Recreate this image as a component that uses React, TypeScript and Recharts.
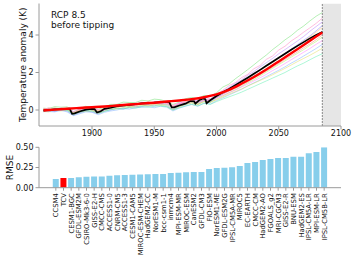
import React from 'react';
import {
  LineChart, Line, XAxis, YAxis, ReferenceArea, ReferenceLine,
  BarChart, Bar, Cell, Label,
} from 'recharts';

// ---- top panel: temperature anomaly (K) ----
const MODEL_YEARS = [1861, 1865, 1870, 1875, 1880, 1885, 1890, 1895, 1900, 1905, 1910, 1915, 1920, 1925, 1930, 1935, 1940, 1945, 1950, 1955, 1960, 1965, 1970, 1975, 1980, 1985, 1990, 1995, 2000, 2005, 2010, 2015, 2020, 2025, 2030, 2035, 2040, 2045, 2050, 2055, 2060, 2065, 2070, 2075, 2080, 2085];

const RUN_1 = [0.10, 0.07, 0.18, 0.15, 0.17, -0.10, 0.05, 0.20, 0.10, 0.04, 0.15, 0.30, 0.30, 0.42, 0.40, 0.40, 0.52, 0.48, 0.58, 0.55, 0.45, 0.30, 0.42, 0.60, 0.67, 0.60, 0.78, 0.73, 0.92, 1.22, 1.38, 1.66, 1.90, 2.15, 2.41, 2.68, 2.93, 3.22, 3.47, 3.74, 3.97, 4.25, 4.48, 4.75, 5.00, 5.20];
const RUN_2 = [-0.05, 0.08, 0.00, 0.12, 0.02, -0.20, 0.02, 0.00, 0.12, -0.02, 0.00, 0.18, 0.12, 0.30, 0.22, 0.38, 0.30, 0.45, 0.35, 0.50, 0.32, 0.25, 0.38, 0.35, 0.60, 0.45, 0.72, 0.60, 0.85, 1.05, 1.30, 1.45, 1.72, 1.90, 2.20, 2.38, 2.70, 2.88, 3.20, 3.40, 3.68, 3.90, 4.15, 4.38, 4.62, 4.90];
const RUN_3 = [0.05, -0.05, 0.10, 0.00, 0.10, -0.10, -0.12, 0.10, -0.02, -0.15, 0.10, 0.05, 0.25, 0.15, 0.32, 0.25, 0.42, 0.30, 0.45, 0.35, 0.42, 0.10, 0.35, 0.48, 0.50, 0.48, 0.62, 0.55, 0.80, 1.00, 1.20, 1.42, 1.60, 1.85, 2.05, 2.30, 2.52, 2.75, 3.00, 3.22, 3.45, 3.68, 3.92, 4.20, 4.45, 4.70];
const RUN_4 = [-0.10, -0.02, -0.08, 0.02, -0.05, -0.28, -0.15, -0.05, -0.10, -0.20, -0.05, 0.00, 0.10, 0.05, 0.15, 0.18, 0.20, 0.28, 0.22, 0.30, 0.25, 0.02, 0.20, 0.28, 0.40, 0.30, 0.50, 0.42, 0.65, 0.85, 1.05, 1.22, 1.45, 1.65, 1.90, 2.10, 2.35, 2.55, 2.80, 3.02, 3.25, 3.48, 3.72, 3.95, 4.22, 4.50];
const RUN_5 = [0.02, 0.12, 0.05, -0.02, 0.12, -0.12, 0.00, 0.12, 0.05, -0.05, 0.12, 0.20, 0.15, 0.25, 0.35, 0.28, 0.38, 0.42, 0.32, 0.45, 0.40, 0.20, 0.25, 0.45, 0.55, 0.35, 0.55, 0.52, 0.70, 0.90, 1.10, 1.25, 1.45, 1.68, 1.88, 2.10, 2.32, 2.52, 2.75, 2.95, 3.18, 3.42, 3.65, 3.90, 4.15, 4.40];
const RUN_6 = [-0.05, 0.00, 0.05, 0.08, 0.00, -0.22, -0.08, 0.00, 0.05, -0.12, 0.02, 0.08, 0.20, 0.18, 0.20, 0.35, 0.30, 0.32, 0.42, 0.38, 0.30, 0.12, 0.28, 0.38, 0.48, 0.38, 0.58, 0.45, 0.70, 0.88, 1.02, 1.20, 1.38, 1.58, 1.78, 1.98, 2.18, 2.40, 2.60, 2.82, 3.02, 3.25, 3.45, 3.70, 3.95, 4.20];
const RUN_7 = [0.08, 0.05, -0.05, 0.10, 0.08, -0.18, -0.02, 0.08, 0.00, -0.10, 0.08, 0.15, 0.22, 0.28, 0.20, 0.32, 0.40, 0.35, 0.40, 0.35, 0.38, 0.18, 0.32, 0.42, 0.52, 0.42, 0.55, 0.50, 0.68, 0.85, 1.00, 1.15, 1.32, 1.50, 1.70, 1.88, 2.08, 2.28, 2.48, 2.70, 2.90, 3.10, 3.32, 3.52, 3.75, 4.00];
const RUN_8 = [-0.08, -0.10, 0.00, -0.05, 0.02, -0.25, -0.10, -0.08, -0.05, -0.18, -0.05, 0.05, 0.05, 0.12, 0.18, 0.15, 0.25, 0.22, 0.28, 0.25, 0.20, 0.00, 0.15, 0.30, 0.38, 0.28, 0.45, 0.40, 0.58, 0.75, 0.92, 1.08, 1.25, 1.45, 1.62, 1.82, 2.02, 2.22, 2.42, 2.62, 2.82, 3.02, 3.22, 3.45, 3.65, 3.90];
const RUN_9 = [0.03, 0.10, 0.08, 0.00, 0.05, -0.08, 0.05, 0.00, 0.08, 0.00, 0.00, 0.10, 0.25, 0.20, 0.28, 0.22, 0.35, 0.40, 0.30, 0.42, 0.35, 0.20, 0.35, 0.38, 0.45, 0.42, 0.50, 0.52, 0.65, 0.78, 0.92, 1.05, 1.22, 1.38, 1.55, 1.72, 1.90, 2.10, 2.28, 2.48, 2.68, 2.88, 3.08, 3.28, 3.50, 3.70];
const RUN_10 = [-0.02, -0.08, -0.10, -0.02, -0.10, -0.30, -0.20, -0.10, -0.12, -0.25, -0.12, -0.05, 0.00, 0.08, 0.05, 0.12, 0.15, 0.18, 0.12, 0.20, 0.15, -0.05, 0.10, 0.20, 0.30, 0.20, 0.38, 0.32, 0.50, 0.65, 0.80, 0.95, 1.10, 1.28, 1.45, 1.60, 1.78, 1.95, 2.12, 2.30, 2.50, 2.68, 2.88, 3.08, 3.28, 3.50];
const RUN_11 = [0.05, 0.02, 0.12, 0.05, 0.00, -0.15, -0.05, 0.05, 0.00, -0.05, 0.05, 0.08, 0.12, 0.20, 0.15, 0.22, 0.28, 0.25, 0.32, 0.28, 0.30, 0.10, 0.20, 0.32, 0.40, 0.32, 0.45, 0.42, 0.55, 0.70, 0.85, 0.98, 1.12, 1.28, 1.42, 1.58, 1.72, 1.88, 2.05, 2.22, 2.40, 2.58, 2.75, 2.92, 3.10, 3.30];
const RUN_12 = [-0.05, 0.05, -0.02, 0.08, -0.02, -0.20, -0.12, -0.02, -0.05, -0.15, -0.08, 0.02, 0.08, 0.05, 0.12, 0.10, 0.18, 0.15, 0.20, 0.22, 0.18, 0.00, 0.12, 0.22, 0.30, 0.22, 0.35, 0.30, 0.45, 0.58, 0.70, 0.82, 0.95, 1.10, 1.25, 1.40, 1.55, 1.70, 1.85, 2.00, 2.18, 2.35, 2.50, 2.68, 2.85, 3.00];
const MODEL_RUNS = [RUN_1, RUN_2, RUN_3, RUN_4, RUN_5, RUN_6, RUN_7, RUN_8, RUN_9, RUN_10, RUN_11, RUN_12];
const RUN_COLORS = ['#66dd66', '#ff77bb', '#b377ff', '#7777ff', '#ffc266', '#55ddff', '#ff7777', '#aaee55', '#ff77ff', '#77aaff', '#dddd55', '#55eeaa'];

const MEAN_YEARS = [1861, 1865, 1870, 1875, 1880, 1882, 1884, 1886, 1890, 1895, 1900, 1902, 1904, 1907, 1910, 1915, 1920, 1925, 1930, 1935, 1940, 1945, 1950, 1955, 1960, 1962, 1964, 1966, 1970, 1975, 1979, 1982, 1983, 1986, 1989, 1991, 1992, 1995, 2000, 2005, 2010, 2015, 2020, 2025, 2030, 2035, 2040, 2045, 2050, 2055, 2060, 2065, 2070, 2075, 2080, 2085];
const MEAN = [-0.02, 0.00, 0.03, 0.04, 0.06, 0.07, -0.20, -0.18, -0.08, 0.02, 0.06, 0.05, -0.13, -0.07, 0.06, 0.12, 0.20, 0.24, 0.27, 0.31, 0.35, 0.37, 0.39, 0.42, 0.44, 0.42, 0.14, 0.14, 0.24, 0.34, 0.48, 0.46, 0.34, 0.52, 0.62, 0.58, 0.36, 0.52, 0.75, 0.95, 1.12, 1.32, 1.52, 1.72, 1.93, 2.14, 2.36, 2.57, 2.79, 3.00, 3.21, 3.42, 3.62, 3.82, 4.00, 4.16];

const FIT_YEARS = [1861, 1870, 1880, 1890, 1900, 1910, 1920, 1930, 1940, 1950, 1960, 1970, 1980, 1990, 2000, 2010, 2020, 2030, 2040, 2050, 2060, 2070, 2080, 2085];
const FIT = [-0.03, 0.02, 0.07, 0.11, 0.15, 0.19, 0.24, 0.29, 0.34, 0.39, 0.45, 0.51, 0.58, 0.68, 0.83, 1.07, 1.40, 1.76, 2.16, 2.59, 3.03, 3.47, 3.92, 4.14];

const TIPPING_YEAR = 2085;
const YEAR_TICKS = [1900, 1950, 2000, 2050, 2100];
const TEMP_TICKS = [0, 2, 4];

// ---- bottom panel: RMSE per model ----
const MODEL_NAMES = ['CCSM4', 'TCV', 'CESM1-BGC', 'GFDL-ESM2M', 'CSIRO-Mk3-6-0', 'GISS-E2-H', 'CMCC-CMS', 'ACCESS1-0', 'CNRM-CM5', 'ACCESS1-3', 'CESM1-CAM5', 'MIROC-ESM-CHEM', 'HadGEM2-CC', 'NorESM1-M', 'bcc-csm1-1', 'inmcm4', 'MPI-ESM-MR', 'MIROC-ESM', 'CanESM2', 'GFDL-CM3', 'FIO-ESM', 'NorESM1-ME', 'GFDL-ESM2G', 'IPSL-CM5A-MR', 'MIROC5', 'EC-EARTH', 'CMCC-CM', 'HadGEM2-AO', 'FGOALS_g2', 'MRI-CGCM3', 'GISS-E2-R', 'BNU-ESM', 'HadGEM2-ES', 'IPSL-CM5A-LR', 'MPI-ESM-LR', 'IPSL-CM5B-LR'];
const RMSE = [0.107, 0.12, 0.12, 0.128, 0.136, 0.14, 0.14, 0.149, 0.153, 0.157, 0.161, 0.162, 0.165, 0.169, 0.17, 0.182, 0.186, 0.19, 0.194, 0.194, 0.231, 0.244, 0.248, 0.252, 0.268, 0.305, 0.318, 0.342, 0.355, 0.367, 0.367, 0.384, 0.384, 0.425, 0.442, 0.5];
const RMSE_TICKS = [0, 0.25, 0.5];

const FRAME = '#9a9a9a';
const FONT = "'DejaVu Sans', sans-serif";

const allYears = Array.from(new Set([...MODEL_YEARS, ...MEAN_YEARS, ...FIT_YEARS])).sort((a, b) => a - b);
const tempData = allYears.map((year) => {
  const row: Record<string, number> = { year };
  const mi = MODEL_YEARS.indexOf(year);
  if (mi >= 0) MODEL_RUNS.forEach((run, k) => { row[`run${k}`] = run[mi]; });
  const ai = MEAN_YEARS.indexOf(year);
  if (ai >= 0) row.mean = MEAN[ai];
  const fi = FIT_YEARS.indexOf(year);
  if (fi >= 0) row.fit = FIT[fi];
  return row;
});

const rmseData = MODEL_NAMES.map((name, i) => ({ name, rmse: RMSE[i] }));

const tickText = { fontSize: 8, fill: '#111', fontFamily: FONT };

function ModelTick({ x, y, payload }: any) {
  return (
    <text
      x={x}
      y={y}
      transform={`rotate(-90, ${x}, ${y})`}
      textAnchor="end"
      dy="0.35em"
      fontSize={6.8}
      fill="#111"
      fontFamily={FONT}
    >
      {payload.value}
    </text>
  );
}

export default function App() {
  return (
    <div style={{ position: 'absolute', left: 0, top: 0, width: 356, height: 259, background: '#fff', fontFamily: FONT }}>
      <LineChart
        width={356}
        height={140}
        data={tempData}
        margin={{ top: 3.5, right: 15, bottom: 0, left: 10 }}
      >
        <ReferenceArea x1={TIPPING_YEAR} x2={2100} fill="#e6e6e6" fillOpacity={1} stroke="none" ifOverflow="hidden" />
        <XAxis
          dataKey="year"
          type="number"
          domain={[1857.4, 2100]}
          ticks={YEAR_TICKS}
          allowDataOverflow
          height={14}
          stroke={FRAME}
          tickSize={3.5}
          tickMargin={1}
          tick={tickText}
        />
        <XAxis xAxisId="top" orientation="top" type="number" domain={[1857.4, 2100]} height={0} tick={false} tickLine={false} stroke={FRAME} />
        <YAxis
          type="number"
          domain={[-0.853, 5.68]}
          ticks={TEMP_TICKS}
          allowDataOverflow
          width={29}
          stroke={FRAME}
          tickSize={3.5}
          tickMargin={2}
          tick={tickText}
        >
          <Label value="Temperature anomaly (K)" angle={-90} position="insideLeft" offset={13} style={{ textAnchor: 'middle', fontSize: 9, fill: '#111', fontFamily: FONT }} />
        </YAxis>
        <YAxis yAxisId="right" orientation="right" domain={[0, 1]} width={0} tick={false} tickLine={false} stroke={FRAME} />
        <ReferenceLine x={TIPPING_YEAR} stroke="#888" strokeDasharray="2 1" strokeWidth={1} />
        {MODEL_RUNS.map((_, k) => (
          <Line
            key={k}
            dataKey={`run${k}`}
            type="linear"
            stroke={RUN_COLORS[k]}
            strokeOpacity={0.6}
            strokeWidth={0.8}
            dot={false}
            connectNulls
            isAnimationActive={false}
          />
        ))}
        <Line dataKey="mean" type="linear" stroke="#000" strokeWidth={1.7} dot={false} connectNulls isAnimationActive={false} />
        <Line dataKey="fit" type="monotone" stroke="#ff0000" strokeWidth={2.4} dot={false} connectNulls isAnimationActive={false} />
      </LineChart>

      <div style={{ position: 'absolute', left: 51, top: 11.2, fontSize: 9, lineHeight: '9.4px', color: '#111', fontFamily: FONT }}>
        RCP 8.5<br />before tipping
      </div>

      <div style={{ position: 'absolute', left: 0, top: 140 }}>
        <BarChart
          width={356}
          height={119}
          data={rmseData}
          margin={{ top: 7.3, right: 15, bottom: 0, left: 10 }}
          barCategoryGap="10%"
        >
          <XAxis
            dataKey="name"
            interval={0}
            height={71.3}
            padding={{ left: 13, right: 13 }}
            stroke={FRAME}
            tickSize={3}
            tickMargin={2.5}
            tick={<ModelTick />}
          />
          <XAxis xAxisId="top" dataKey="name" orientation="top" height={0} tick={false} tickLine={false} stroke={FRAME} />
          <YAxis
            type="number"
            domain={[0, 0.5]}
            ticks={RMSE_TICKS}
            allowDataOverflow
            width={29}
            stroke={FRAME}
            tickSize={3.5}
            tickMargin={2}
            tick={tickText}
            tickFormatter={(v: number) => v.toFixed(2)}
          >
            <Label value="RMSE" angle={-90} position="insideLeft" offset={0} style={{ textAnchor: 'middle', fontSize: 9, fill: '#111', fontFamily: FONT }} />
          </YAxis>
          <YAxis yAxisId="right" orientation="right" domain={[0, 1]} width={0} tick={false} tickLine={false} stroke={FRAME} />
          <Bar dataKey="rmse" isAnimationActive={false}>
            {rmseData.map((d) => (
              <Cell key={d.name} fill={d.name === 'TCV' ? '#ff0000' : '#87ceeb'} />
            ))}
          </Bar>
        </BarChart>
      </div>
    </div>
  );
}
